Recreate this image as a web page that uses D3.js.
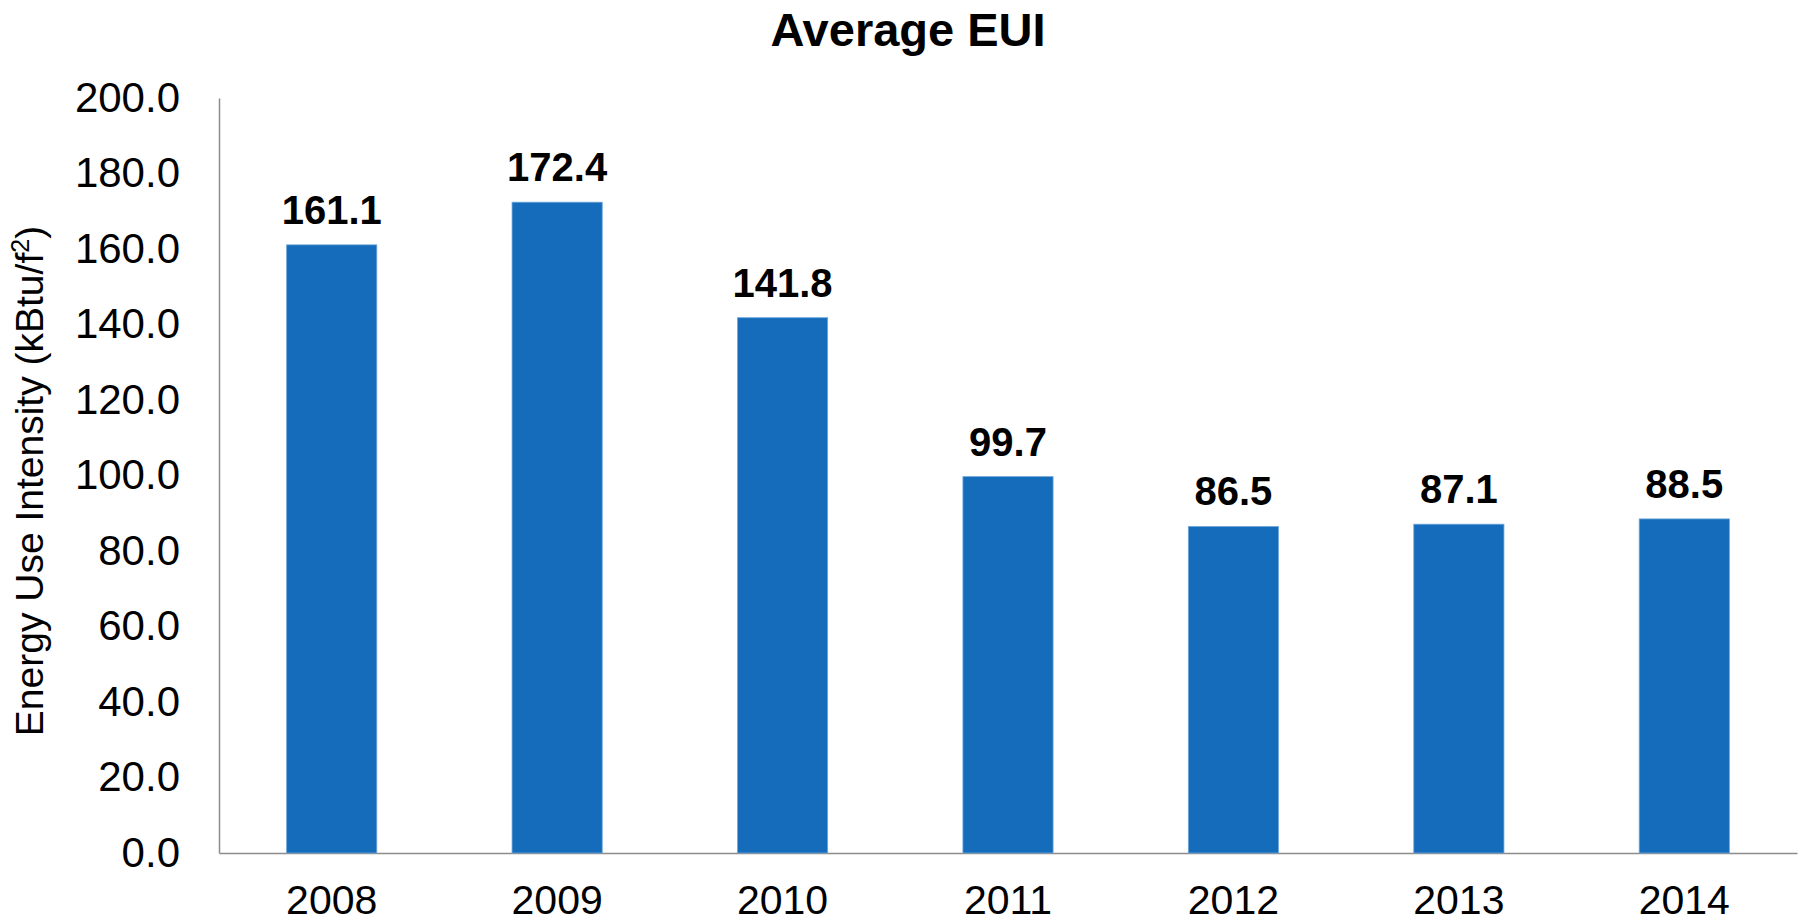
<!DOCTYPE html>
<html>
<head>
<meta charset="utf-8">
<script src="https://cdn.jsdelivr.net/npm/d3@7"></script>
<style>
  body { margin: 0; background: #fff; }
  svg text { font-family: "Liberation Sans", Arial, sans-serif; fill: #000; }
</style>
</head>
<body>
<div id="chart-area"></div>
<script>
// Data
const years = ["2008", "2009", "2010", "2011", "2012", "2013", "2014"];
const eui = [161.1, 172.4, 141.8, 99.7, 86.5, 87.1, 88.5];
const yTicks = [0, 20, 40, 60, 80, 100, 120, 140, 160, 180, 200];

const margin = { top: 98, right: 3, bottom: 71, left: 219 };
const width = 1800 - margin.left - margin.right;
const height = 924 - margin.top - margin.bottom;

const svg = d3
    .select("#chart-area")
    .append("svg")
    .attr("width", 1800)
    .attr("height", 924);

const g = svg
    .append("g")
    .attr("transform", `translate(${margin.left}, ${margin.top})`);

//Scales
const xScale = d3
    .scaleBand()
    .domain(years)
    .range([0, width])
    .paddingInner(0.6)
    .paddingOuter(0.3);
const yScale = d3.scaleLinear().domain([0, 200]).range([height, 0]);

//Axes
const yAxisCall = d3
    .axisLeft(yScale)
    .tickValues(yTicks)
    .tickFormat(d3.format(".1f"))
    .tickSize(0)
    .tickPadding(39);
const xAxisCall = d3.axisBottom(xScale).tickSize(0).tickPadding(32);

const yAxis = g.append("g").attr("class", "y-axis").call(yAxisCall);
const xAxis = g
    .append("g")
    .attr("class", "x-axis")
    .attr("transform", `translate(0, ${height})`)
    .call(xAxisCall);

[yAxis, xAxis].forEach((ax) => {
    ax.select(".domain").attr("stroke", "#8c8c8c").attr("stroke-width", 1.5);
    ax.selectAll("text")
        .attr("font-size", "42px")
        .attr("font-family", "Liberation Sans, Arial, sans-serif")
        .attr("fill", "#000");
});
xAxis.selectAll("text").attr("font-size", "41px").attr("dy", "0.71em");

//Bars
g.selectAll("rect.bar")
    .data(eui)
    .enter()
    .append("rect")
    .attr("class", "bar")
    .attr("x", (d, i) => xScale(years[i]))
    .attr("y", (d) => yScale(d))
    .attr("width", xScale.bandwidth())
    .attr("height", (d) => height - yScale(d))
    .attr("fill", "#156cbb")
    .attr("stroke", "#6ea6da")
    .attr("stroke-width", 0.8);

//Value labels
g.selectAll("text.value")
    .data(eui)
    .enter()
    .append("text")
    .attr("class", "value")
    .attr("x", (d, i) => xScale(years[i]) + xScale.bandwidth() / 2)
    .attr("y", (d) => yScale(d) - 21)
    .attr("text-anchor", "middle")
    .attr("font-size", "40px")
    .attr("font-weight", "bold")
    .text((d) => d3.format(".1f")(d));

//Title
svg.append("text")
    .attr("x", 908)
    .attr("y", 46)
    .attr("text-anchor", "middle")
    .attr("font-size", "47px")
    .attr("font-weight", "bold")
    .text("Average EUI");

//Y label
const yLabel = svg
    .append("text")
    .attr("transform", "rotate(-90)")
    .attr("x", -481)
    .attr("y", 43)
    .attr("text-anchor", "middle")
    .attr("font-size", "39px");
yLabel.append("tspan").text("Energy Use Intensity (kBtu/f");
yLabel
    .append("tspan")
    .attr("font-size", "25px")
    .attr("dy", "-14")
    .text("2");
yLabel.append("tspan").attr("dy", "14").text(")");
</script>
</body>
</html>
